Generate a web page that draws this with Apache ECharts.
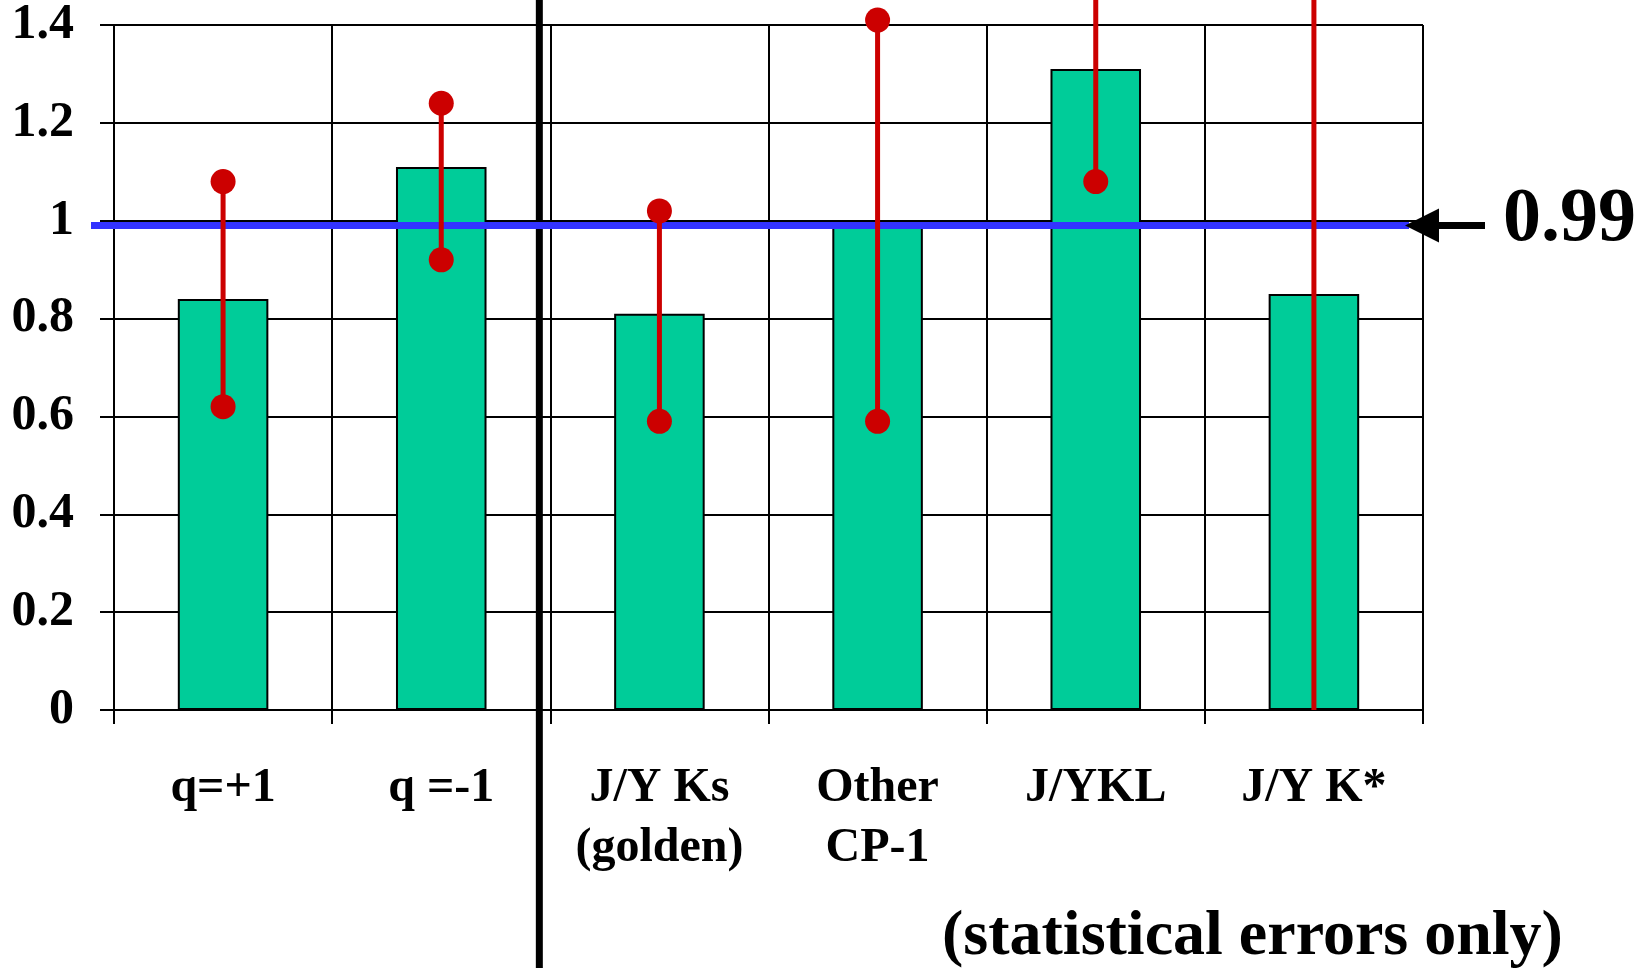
<!DOCTYPE html>
<html>
<head>
<meta charset="utf-8">
<script src="https://cdn.jsdelivr.net/npm/echarts@6/dist/echarts.min.js"></script>
<style>
  html, body { margin: 0; padding: 0; background: #ffffff; }
  #chart { width: 1650px; height: 968px; }
</style>
</head>
<body>
<div id="chart"></div>
<script>
// Decay-mode categories and the measured ratio for each
const categories = ['q=+1', 'q =-1', 'J/Y Ks\n(golden)', 'Other\nCP-1', 'J/YKL', 'J/Y K*'];
const ratios     = [0.84, 1.11, 0.81, 1.00, 1.31, 0.85];
// Statistical error bar ends (lower, upper)
const errLow     = [0.62, 0.92, 0.59, 0.59, 1.08, -0.20];
const errHigh    = [1.08, 1.24, 1.02, 1.41, 1.54, 1.90];
// Value-axis tick labels
const yTickLabels = ['0', '0.2', '0.4', '0.6', '0.8', '1', '1.2', '1.4'];
// Combined average and its annotation
const average      = 0.99;
const averageLabel = '0.99';
const footnote     = '(statistical errors only)';

const FONT = '"Liberation Serif", "Times New Roman", Times, serif';
const RED = '#CC0000';
const BLUE = '#3333FF';

const chart = echarts.init(document.getElementById('chart'), null, { renderer: 'canvas' });

const blackLine = { color: '#000000', width: 2 };

const option = {
  animation: false,
  backgroundColor: '#ffffff',
  grid: { left: 114, right: 227, top: 25, bottom: 258, containLabel: false },
  xAxis: {
    type: 'category',
    data: categories,
    boundaryGap: true,
    axisLine: { show: true, lineStyle: blackLine },
    axisTick: { show: true, length: 14, lineStyle: blackLine },
    splitLine: { show: true, lineStyle: blackLine },
    axisLabel: {
      interval: 0, margin: 49, color: '#000000',
      fontFamily: FONT, fontWeight: 'bold', fontSize: 48, lineHeight: 60
    }
  },
  yAxis: {
    type: 'value',
    min: 0, max: 1.4, interval: 0.2,
    axisLine: { show: true, lineStyle: blackLine },
    axisTick: { show: true, length: 14, lineStyle: blackLine },
    splitLine: { show: true, lineStyle: blackLine },
    axisLabel: {
      margin: 40, color: '#000000',
      fontFamily: FONT, fontWeight: 'bold', fontSize: 50,
      formatter: (v, i) => yTickLabels[i]
    }
  },
  series: [
    {
      type: 'bar',
      name: 'ratio',
      data: ratios,
      barWidth: '41.5%',
      itemStyle: { color: '#00CC99', borderColor: '#000000', borderWidth: 2 },
      z: 2
    },
    {
      // separator between charge split and channel split
      type: 'custom',
      name: 'divider',
      data: [[1, 2]],
      clip: false,
      silent: true,
      z: 3,
      renderItem: function (params, api) {
        const xa = api.coord([api.value(0), 0])[0];
        const xb = api.coord([api.value(1), 0])[0];
        const x = (xa + xb) / 2 - 11;
        return {
          type: 'rect',
          shape: { x: x - 3.5, y: 0, width: 7, height: api.getHeight() },
          style: { fill: '#000000' }
        };
      }
    },
    {
      // average line with arrow and value annotation
      type: 'custom',
      name: 'average',
      data: [[0, average]],
      clip: false,
      silent: true,
      z: 4,
      renderItem: function (params, api) {
        const cs = params.coordSys;
        const y = api.coord([0, api.value(1)])[1];
        const right = cs.x + cs.width;
        return {
          type: 'group',
          children: [
            {
              type: 'line',
              shape: { x1: cs.x - 23, y1: y, x2: right - 14, y2: y },
              style: { stroke: BLUE, lineWidth: 7 }
            },
            {
              type: 'polygon',
              shape: { points: [[right - 18, y], [right + 16, y - 17], [right + 16, y + 17]] },
              style: { fill: '#000000' }
            },
            {
              type: 'rect',
              shape: { x: right + 14, y: y - 3.5, width: 48, height: 7 },
              style: { fill: '#000000' }
            },
            {
              type: 'text',
              x: right + 80, y: y - 5,
              style: {
                text: averageLabel, fill: '#000000',
                font: 'bold 76px ' + FONT,
                align: 'left', verticalAlign: 'middle'
              }
            }
          ]
        };
      }
    },
    {
      // statistical error bars
      type: 'custom',
      name: 'errors',
      data: categories.map((c, i) => [i, errLow[i], errHigh[i]]),
      clip: false,
      silent: true,
      z: 5,
      renderItem: function (params, api) {
        const idx = api.value(0);
        const lo = api.value(1);
        const hi = api.value(2);
        const x = api.coord([idx, 0])[0];
        const floor = api.coord([idx, 0])[1];
        const loClamped = lo < 0;
        const yLo = loClamped ? floor : api.coord([idx, lo])[1];
        const yHi = api.coord([idx, hi])[1];
        const children = [
          {
            type: 'line',
            shape: { x1: x, y1: yLo, x2: x, y2: yHi },
            style: { stroke: RED, lineWidth: 5 }
          },
          {
            type: 'circle',
            shape: { cx: x, cy: yHi, r: 12.5 },
            style: { fill: RED }
          }
        ];
        if (!loClamped) {
          children.push({
            type: 'circle',
            shape: { cx: x, cy: yLo, r: 12.5 },
            style: { fill: RED }
          });
        }
        return { type: 'group', children: children };
      }
    }
  ],
  graphic: [
    {
      type: 'text',
      x: 942, y: 937,
      style: {
        text: footnote, fill: '#000000',
        font: 'bold 64px ' + FONT,
        align: 'left', verticalAlign: 'middle'
      }
    }
  ]
};

chart.setOption(option);
</script>
</body>
</html>
